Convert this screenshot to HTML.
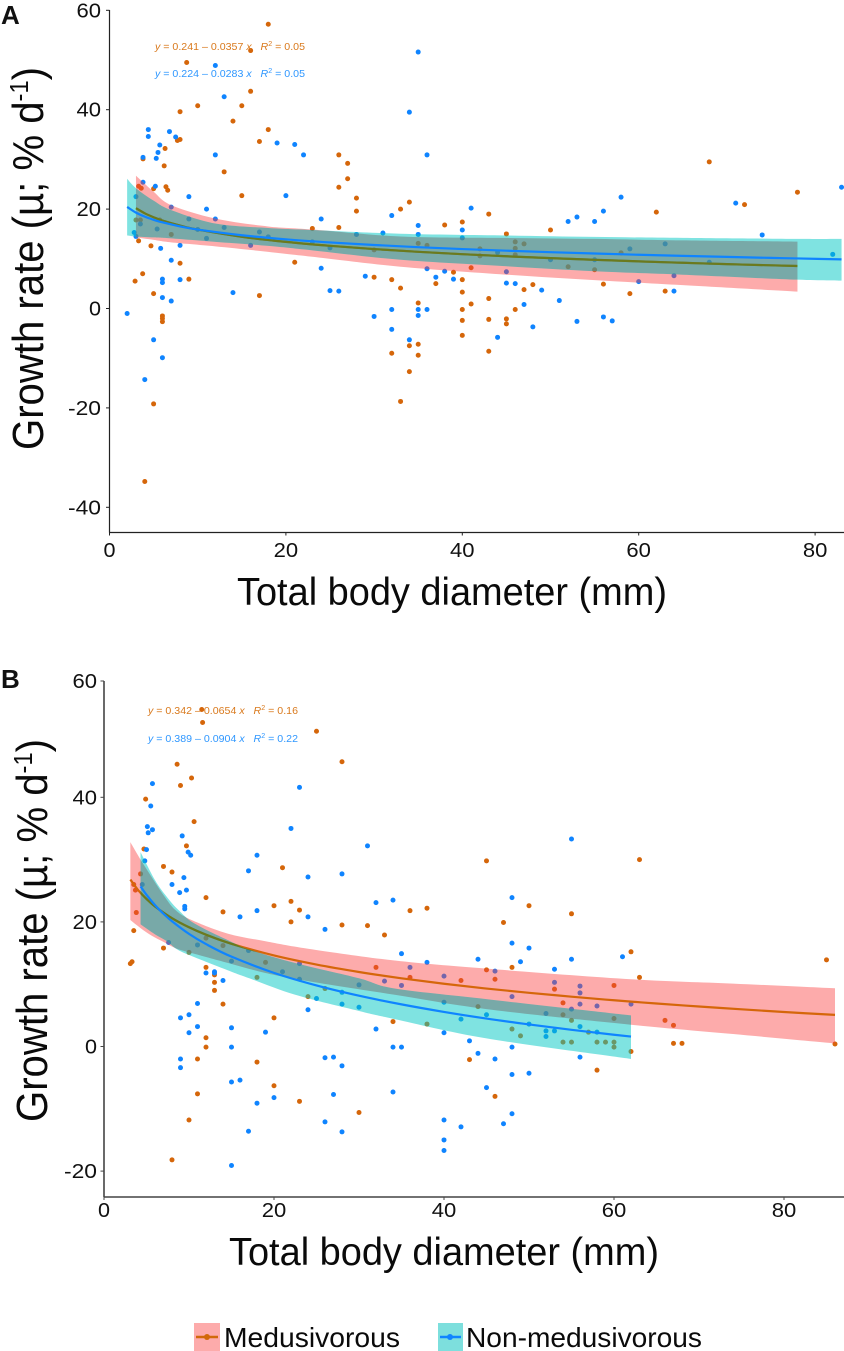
<!DOCTYPE html>
<html lang="en">
<head>
<meta charset="utf-8">
<title>Growth rate vs total body diameter</title>
<style>
html,body{margin:0;padding:0;background:#fff}
svg{display:block;font-family:"Liberation Sans",Arial,sans-serif}
.ann{font-size:10.5px}
.ann tspan.i{font-style:italic}
.title{font-size:38.5px;fill:#0a0a0a}
.ytitle{font-size:44px;fill:#0a0a0a}
.tick{font-size:20px;fill:#111}
.tag{font-size:26px;font-weight:bold;fill:#111}
.leg{font-size:28px;fill:#0a0a0a}
</style>
</head>
<body>
<svg id="chart" xmlns="http://www.w3.org/2000/svg" width="844" height="1351" viewBox="0 0 844 1351">
  <rect width="844" height="1351" fill="#fff"/>
  <g id="panelA"></g>
  <g id="panelB"></g>

  <text class="tag" x="1" y="24">A</text>
  <text class="tag" x="1" y="688">B</text>

  <text class="ytitle" transform="translate(43,450) rotate(-90)" textLength="383" lengthAdjust="spacingAndGlyphs">Growth rate (µ; % d<tspan font-size="26" dy="-15">-1</tspan><tspan dy="15">)</tspan></text>
  <text class="ytitle" transform="translate(47,1122) rotate(-90)" textLength="383" lengthAdjust="spacingAndGlyphs">Growth rate (µ; % d<tspan font-size="26" dy="-15">-1</tspan><tspan dy="15">)</tspan></text>

  <text class="title" x="237" y="605" textLength="430" lengthAdjust="spacingAndGlyphs">Total body diameter (mm)</text>
  <text class="title" x="229" y="1265" textLength="430" lengthAdjust="spacingAndGlyphs">Total body diameter (mm)</text>

  <text class="ann" x="155" y="50" fill="#d9791c" textLength="150" lengthAdjust="spacingAndGlyphs"><tspan class="i">y</tspan> = 0.241 – 0.0357 <tspan class="i">x</tspan>&#160;&#160;&#160;<tspan class="i">R</tspan><tspan font-size="7" dy="-4">2</tspan><tspan dy="4"> = 0.05</tspan></text>
  <text class="ann" x="155" y="77" fill="#2f97ff" textLength="150" lengthAdjust="spacingAndGlyphs"><tspan class="i">y</tspan> = 0.224 – 0.0283 <tspan class="i">x</tspan>&#160;&#160;&#160;<tspan class="i">R</tspan><tspan font-size="7" dy="-4">2</tspan><tspan dy="4"> = 0.05</tspan></text>
  <text class="ann" x="148" y="714" fill="#d9791c" textLength="150" lengthAdjust="spacingAndGlyphs"><tspan class="i">y</tspan> = 0.342 – 0.0654 <tspan class="i">x</tspan>&#160;&#160;&#160;<tspan class="i">R</tspan><tspan font-size="7" dy="-4">2</tspan><tspan dy="4"> = 0.16</tspan></text>
  <text class="ann" x="148" y="742" fill="#2f97ff" textLength="150" lengthAdjust="spacingAndGlyphs"><tspan class="i">y</tspan> = 0.389 – 0.0904 <tspan class="i">x</tspan>&#160;&#160;&#160;<tspan class="i">R</tspan><tspan font-size="7" dy="-4">2</tspan><tspan dy="4"> = 0.22</tspan></text>

  <g>
    <g>
      <rect x="194" y="1323" width="26" height="28" fill="#fdabab"/>
      <line x1="196" x2="218" y1="1337" y2="1337" stroke="#d2690a" stroke-width="2.6"/>
      <circle cx="207" cy="1337" r="3" fill="#d2690a"/>
      <text class="leg" x="224" y="1347" textLength="176" lengthAdjust="spacingAndGlyphs">Medusivorous</text>
    </g>
    <g>
      <rect x="438" y="1323" width="25" height="28" fill="#7ddfdd"/>
      <line x1="440" x2="461" y1="1337" y2="1337" stroke="#0f84ff" stroke-width="2.6"/>
      <circle cx="450" cy="1337" r="3" fill="#0f84ff"/>
      <text class="leg" x="466" y="1347" textLength="236" lengthAdjust="spacingAndGlyphs">Non-medusivorous</text>
    </g>
  </g>
</svg>
<script>
// ---------- Shared tick values ----------
var xTickValues = [0, 20, 40, 60, 80];
var yTickValuesA = [60, 40, 20, 0, -20, -40];
var yTickValuesB = [60, 40, 20, 0, -20];

// ---------- Panel A: points as [diameter, growth] ----------
var aOrangePoints = [
[18,57.2],[16,51.9],[8.75,49.5],[16,43.7],[10,40.8],[15,40.8],[8,39.6],[14,37.7],[18,36],[8,34],[7.7,33.8],[17,33.6],
[6.3,32.2],[26,30.9],[27,29.2],[3.8,30.1],[6.2,28.7],[27,26.1],[13,27.5],[3.3,24.6],[3.6,24.2],[5,24.1],[6.4,24.5],[6.6,23.8],
[15,22.7],[26,24.4],[28,22.2],[28,19.6],[33,20],[23,16.1],[26,16.3],[3,17.8],[3.5,17.8],[5.7,17.8],[7,14.9],[3.3,13.6],
[4.7,12.6],[8,9.1],[21,9.3],[30,11.8],[3.76,7],[2.9,5.5],[5,3],[9,5.9],[6,-1.5],[6,-2],[6,-2.65],[17,2.6],[30,6.3],[32,5.8],
[33,4.1],[32,-9],[33,-18.7],[5,-19.2],[4,-34.8],[68,29.5],[78,23.4],[72,20.9],[62,19.4],[34,21.4],[43,19],[40,17.4],[38,16.8],
[50,15.8],[45,15],[35,13.1],[36,12.7],[46,13.4],[46,12.1],[46,10.8],[47,13],[42,12],[42,10.6],[58,11.2],[52,8.4],[55,7.8],
[41,8.2],[39,7.3],[40,5.8],[37,5],[56,4.9],[59,3],[63,3.5],[47,3.8],[48,4.8],[40,3.3],[41,0.9],[43,2],[35,1.1],[40,-0.2],
[46,-0.2],[40,-2.4],[43,-2.2],[45,-2.1],[45,-3.1],[40,-5.4],[35,-7.2],[34,-7.5],[35,-9.4],[43,-8.6],[34,-12.7]
];
var aBluePoints = [
[35,51.6],[34,39.5],[12,48.9],[13,42.6],[4.4,36],[4.4,34.6],[6.8,35.6],[7.5,34.5],[5.7,32.9],[5.5,31.4],[19,33.3],[21,33],
[22,30.9],[12,30.9],[3.8,30.4],[5.3,30.2],[3.8,25.4],[5.2,24.6],[3,22.5],[9,22.5],[20,22.7],[7,20.4],[11,20],[9,18],[12,18],
[24,18],[32,18.7],[3.5,17],[5.4,16],[13,16.3],[10,15.9],[17,15.4],[31,15.2],[28,14.9],[11,14.1],[2.8,15.3],[3,14.5],[18,14.4],
[23,13.4],[8,12.7],[16,12.7],[25,12.2],[5.8,12.1],[7,9.7],[24,8.1],[6,5.9],[6,5.2],[8,5.8],[14,3.2],[25,3.6],[26,3.5],[29,6.5],
[6,2.2],[7,1.5],[2,-1],[32,-0.2],[30,-1.6],[32,-4.2],[5,-6.3],[6,-9.9],[4,-14.3],[36,30.9],[41,20.2],[58,22.4],[56,19.6],
[52,17.5],[53,18.4],[55,17.5],[71,21.2],[83,24.4],[74,14.8],[35,16.7],[35,14.9],[40,15.8],[40,14.2],[44,11.3],[59,12],[63,13],
[55,9.8],[50,9.8],[82,10.9],[68,9.3],[64,6.6],[60,5.4],[36,8],[38,7.5],[37,6.3],[39,5.9],[45,7.4],[45,5.1],[46,5],[49,3.7],
[64,3.5],[47,0.8],[51,1.6],[35,-0.2],[36,-0.2],[35,-1.4],[53,-2.6],[56,-1.7],[57,-2.5],[48,-3.7],[44,-5.8],[34,-6.3]
];

// ---------- Panel A: fitted lines ----------
var aOrangeLineX = [3,4,5,6,8,10,15,20,25,30,35,40,45,50,55,60,65,70,75,78];
var aOrangeLineY = [20.18,19.15,18.36,17.70,16.68,15.88,14.43,13.40,12.61,11.96,11.41,10.93,10.51,10.13,9.80,9.48,9.20,8.93,8.69,8.55];
var aBlueLineX = [2,3,4,5,6,8,10,15,20,25,30,35,40,45,50,55,60,65,70,75,78,83];
var aBlueLineY = [20.44,19.29,18.48,17.85,17.33,16.52,15.88,14.74,13.92,13.29,12.78,12.34,11.96,11.63,11.33,11.06,10.81,10.59,10.38,10.18,10.07,9.89];

// ---------- Panel A: confidence ribbons ----------
var aOrangeBandX = [3,5,7,12,18,23,33,45,55,65,78];
var aOrangeBandHigh = [26.7,23.5,20.8,18.1,16.5,15.9,14.5,14.2,14,13.7,13.45];
var aOrangeBandLow = [14.3,13.8,13.3,12.5,11.4,10.4,8.4,6.8,5.7,4.7,3.4];
var aBlueBandX = [2,3,5,7,12,18,23,33,45,55,65,78,83];
var aBlueBandHigh = [26.1,24.2,21.7,19.8,17.1,16.2,15.8,15.05,14.7,14.4,14.2,14,14];
var aBlueBandLow = [14.7,14.5,14.3,14.1,13.4,12.6,11.7,9.8,8.5,7.5,6.8,5.8,5.6];

// ---------- Panel B: points as [diameter, growth] ----------
var bOrangePoints = [
[11.5,54.1],[11.6,52],[25,50.6],[28,45.7],[8.6,45.3],[10.3,43.1],[9,41.9],[4.9,39.7],[10.6,36.1],[9.7,32.2],[4.7,31.7],[7,28.9],
[8,28],[21,28.7],[4.3,27.7],[3.5,26],[3.7,25.1],[3.8,21.5],[3.5,18.6],[12,23.9],[14,21.6],[20,22.6],[22,23.3],[23,21.9],[22,20],
[28,19.5],[31,19.4],[33,17.9],[12,17.4],[14,16.2],[7,15.8],[10,15.1],[18,11.1],[19,13.5],[24,8],[26,9.3],[32,12.7],[3.1,13.3],
[3.3,13.6],[12,12.7],[13,11.5],[13,10.3],[13,9],[14,6.8],[12,1.4],[12,-0.1],[11,-2],[18,-2.5],[11,-7.6],[10,-11.8],[8,-18.2],
[20,4.6],[20,-6.3],[23,-8.8],[30,-10.6],[34,4],[45,29.8],[63,30],[50,22.6],[55,21.3],[47,19.9],[36,21.8],[38,22.2],[62,15.2],
[85,13.9],[45,12.3],[48,12.7],[63,11.1],[36,11.1],[42,10.6],[46,10.8],[53,9.2],[60,9.8],[54,7],[44,6.4],[54,5.1],[60,4.5],
[55,4.2],[38,3.6],[48,2.8],[49,1.7],[57,2.3],[54,0.7],[55,0.7],[58,0.7],[59,0.7],[60,0.7],[60,-0.1],[62,-0.8],[66,4.2],[67,3.4],
[67,0.5],[68,0.5],[86,0.4],[58,-3.8],[43,-2.1],[46,-8]
];
var bBluePoints = [
[5.7,42.2],[23,41.6],[5.5,38.6],[5.1,35.3],[5.7,34.8],[5.2,34.3],[22,35],[9.2,33.8],[31,32.2],[5,31.6],[9.9,31.2],[10.2,30.7],
[18,30.7],[4.8,29.8],[17,28.2],[28,27.7],[24,27.2],[9.4,27.1],[8,26],[4.5,26],[8.9,24.7],[9.7,25.1],[32,23.1],[34,23.5],[9.5,22.5],
[9.5,22.1],[18,21.8],[16,20.8],[24,20.8],[26,18.8],[7.6,16.7],[11,16.3],[17,15.4],[15,13.7],[14,10.6],[12,11.8],[13,12],[13,11.8],
[21,12],[23,13.3],[23,10.8],[25,7.7],[24,5.9],[28,8.7],[28,6.8],[30,9.9],[30,6.3],[33,10.5],[32,2.8],[11,6.9],[10,5.1],[9,4.6],
[11,3.2],[10,2.2],[15,3],[19,2.3],[15,-0.1],[34,-0.1],[9,-2],[9,-3.4],[26,-1.8],[27,-1.7],[28,-3.1],[15,-5.7],[16,-5.4],[18,-9.1],
[20,-8.2],[27,-7.7],[34,-7.3],[26,-12.1],[28,-13.7],[17,-13.6],[15,-19.1],[55,33.3],[48,23.9],[48,16.6],[50,15.8],[49,13.6],
[35,14.9],[38,13.5],[44,14],[55,14],[61,14.4],[53,12.4],[36,12.7],[40,11.3],[46,12.1],[35,9.8],[53,10.3],[56,9.7],[56,8.6],[48,8],
[56,6.8],[58,6.5],[55,6],[62,6.8],[40,7.1],[52,5.3],[45,5.1],[42,4.4],[50,3.6],[56,3.2],[52,2.5],[53,2.5],[58,2.3],[52,1.6],[40,2.2],
[43,0.9],[35,-0.1],[48,-0.1],[44,-1.1],[46,-2],[56,-1.7],[48,-4.5],[50,-4.3],[45,-6.6],[48,-10.8],[47,-12.4],[40,-11.8],[42,-12.9],
[40,-15],[40,-16.7]
];

// ---------- Panel B: fitted lines ----------
var bOrangeLineX = [3.1,4,5,6,8,10,12,15,20,25,30,35,40,45,50,55,60,65,70,75,80,86];
var bOrangeLineY = [26.80,25.13,23.68,22.48,20.60,19.14,17.95,16.49,14.61,13.15,11.96,10.95,10.07,9.30,8.62,8.00,7.42,6.90,6.42,5.97,5.54,5.07];
var bBlueLineX = [4.3,5,6,7,8,10,12,15,20,25,30,35,40,45,50,55,60,62];
var bBlueLineY = [25.71,24.35,22.70,21.31,20.11,18.08,16.44,14.42,11.82,9.80,8.15,6.76,5.55,4.48,3.54,2.68,1.89,1.59];

// ---------- Panel B: confidence ribbons ----------
var bOrangeBandX = [3.1,4.3,5.6,7,8.4,10.3,14.6,19,24,34.2,45,62,74,86];
var bOrangeBandHigh = [32.8,30,27.2,24.3,21.9,20.3,18.1,16.9,15.7,13.8,12.5,10.8,10.1,9.34];
var bOrangeBandLow = [20.3,19,17.8,16.8,15.8,15,13.4,11.8,10.5,8.3,6,3.5,2,0.5];
var bBlueBandX = [4.3,6,7.4,8.7,10.7,15,17,22.5,30,34.2,45,62];
var bBlueBandHigh = [31.2,26.7,24,22,19.7,16.8,15.6,13.4,10.95,9.3,7.6,5];
var bBlueBandLow = [19.6,18,16.9,15.5,14.3,12,11,8.3,5.7,4.4,1.3,-2];

var SVGNS = 'http://www.w3.org/2000/svg';
var ORANGE = '#d5660a';
var BLUE = '#0f84ff';
var OLIVE = '#6b7a1e';

function mk(parent, tag, attrs) {
  var el = document.createElementNS(SVGNS, tag);
  for (var k in attrs) { el.setAttribute(k, attrs[k]); }
  parent.appendChild(el);
  return el;
}
// Smooth Catmull-Rom segments through a list of screen points.
function curveSegments(p) {
  var d = '';
  for (var i = 0; i < p.length - 1; i++) {
    var a = p[Math.max(i - 1, 0)], b = p[i], c = p[i + 1], e = p[Math.min(i + 2, p.length - 1)];
    d += 'C' + (b[0] + (c[0] - a[0]) / 6).toFixed(2) + ' ' + (b[1] + (c[1] - a[1]) / 6).toFixed(2) + ' ' +
         (c[0] - (e[0] - b[0]) / 6).toFixed(2) + ' ' + (c[1] - (e[1] - b[1]) / 6).toFixed(2) + ' ' +
         c[0].toFixed(2) + ' ' + c[1].toFixed(2);
  }
  return d;
}
function screenPts(xs, ys, sx, sy) {
  return xs.map(function (v, i) { return [sx(v), sy(ys[i])]; });
}
function linePath(xs, ys, sx, sy) {
  var p = screenPts(xs, ys, sx, sy);
  return 'M' + p[0][0].toFixed(2) + ' ' + p[0][1].toFixed(2) + curveSegments(p);
}
function bandPath(xs, hi, lo, sx, sy) {
  var top = screenPts(xs, hi, sx, sy);
  var bot = screenPts(xs, lo, sx, sy).reverse();
  return 'M' + top[0][0].toFixed(2) + ' ' + top[0][1].toFixed(2) + curveSegments(top) +
         'L' + bot[0][0].toFixed(2) + ' ' + bot[0][1].toFixed(2) + curveSegments(bot) + 'Z';
}

function drawPanel(cfg) {
  var root = document.getElementById(cfg.id);
  var sx = function (v) { return cfg.x0 + cfg.kx * v; };
  var sy = function (v) { return cfg.y0 - cfg.ky * v; };
  var el, i;

  // ----- points (under the ribbons)
  for (i = 0; i < cfg.orangePts.length; i++) {
    el = mk(root, 'circle', { cx: sx(cfg.orangePts[i][0]), cy: sy(cfg.orangePts[i][1]), r: 2.5, fill: ORANGE });
    
    
  }
  for (i = 0; i < cfg.bluePts.length; i++) {
    el = mk(root, 'circle', { cx: sx(cfg.bluePts[i][0]), cy: sy(cfg.bluePts[i][1]), r: 2.5, fill: BLUE });
    
    
  }

  // ----- ribbons and lines
  var orangeBand = bandPath(cfg.oBandX, cfg.oHi, cfg.oLo, sx, sy);
  var blueBand = bandPath(cfg.bBandX, cfg.bHi, cfg.bLo, sx, sy);
  var orangeLine = linePath(cfg.oLineX, cfg.oLineY, sx, sy);
  var blueLine = linePath(cfg.bLineX, cfg.bLineY, sx, sy);

  var defs = mk(root, 'defs', {});
  var clip = mk(defs, 'clipPath', { id: cfg.id + '-blue-clip' });
  mk(clip, 'path', { d: blueBand });

  el = mk(root, 'path', { d: orangeBand, fill: 'rgb(250,60,60)', 'fill-opacity': 0.43 });
  
  

  el = mk(root, 'path', { d: orangeLine, fill: 'none', stroke: ORANGE, 'stroke-width': 2.2 });
  
  

  el = mk(root, 'path', { d: blueBand, fill: 'rgb(0,200,195)', 'fill-opacity': 0.5 });
  
  

  var overlapClip = mk(defs, 'clipPath', { id: cfg.id + '-overlap-clip' });
  mk(overlapClip, 'path', { d: orangeBand, 'clip-path': 'url(#' + cfg.id + '-blue-clip)' });

  el = mk(root, 'path', { d: blueBand, fill: 'rgb(90,80,90)', 'fill-opacity': 0.15, 'clip-path': 'url(#' + cfg.id + '-overlap-clip)' });
  
  

  el = mk(root, 'path', { d: orangeLine, fill: 'none', stroke: OLIVE, 'stroke-width': 2.2, 'clip-path': 'url(#' + cfg.id + '-blue-clip)' });
  
  

  el = mk(root, 'path', { d: blueLine, fill: 'none', stroke: BLUE, 'stroke-width': 2.2 });
  
  

  // ----- axes
  el = mk(root, 'line', { x1: cfg.x0, x2: cfg.x0, y1: cfg.axisTop, y2: cfg.axisBottom, stroke: cfg.axisColor, 'stroke-width': cfg.axisWidth });
  
  

  el = mk(root, 'line', { x1: cfg.x0, x2: cfg.axisRight, y1: cfg.axisBottom, y2: cfg.axisBottom, stroke: cfg.axisColor, 'stroke-width': cfg.axisWidth });
  
  

  cfg.yTicks.forEach(function (v) {
    var py = Math.max(cfg.axisTop, sy(v));
    var t = mk(root, 'line', { x1: cfg.x0 - 3.5, x2: cfg.x0, y1: py, y2: py, stroke: cfg.axisColor, 'stroke-width': 1 });
    
    
    var s = String(v);
    var l = mk(root, 'text', { 'class': 'tick', x: cfg.yLabelRight, y: py + 7, 'text-anchor': 'end', textLength: v < 0 ? 33 : (v === 0 ? 12 : 24.5), lengthAdjust: 'spacingAndGlyphs' });
    l.textContent = s;
    
    
  });

  cfg.xTicks.forEach(function (v) {
    var px = sx(v);
    var t = mk(root, 'line', { x1: px, x2: px, y1: cfg.axisBottom, y2: cfg.axisBottom + 3, stroke: cfg.axisColor, 'stroke-width': 1 });
    
    
    var l = mk(root, 'text', { 'class': 'tick', x: px, y: cfg.xLabelBase, 'text-anchor': 'middle', textLength: v === 0 ? 12 : 24.5, lengthAdjust: 'spacingAndGlyphs' });
    l.textContent = String(v);
    
    
  });
}

drawPanel({
  id: 'panelA', x0: 109.5, kx: 8.82, y0: 308.5, ky: 4.97,
  axisTop: 10, axisBottom: 532.5, axisRight: 844, axisColor: '#222', axisWidth: 1.2,
  yLabelRight: 101, xLabelBase: 557,
  xTicks: xTickValues, yTicks: yTickValuesA,
  orangePts: aOrangePoints, bluePts: aBluePoints,
  oLineX: aOrangeLineX, oLineY: aOrangeLineY, bLineX: aBlueLineX, bLineY: aBlueLineY,
  oBandX: aOrangeBandX, oHi: aOrangeBandHigh, oLo: aOrangeBandLow,
  bBandX: aBlueBandX, bHi: aBlueBandHigh, bLo: aBlueBandLow
});
drawPanel({
  id: 'panelB', x0: 104, kx: 8.5, y0: 1046.5, ky: 6.23,
  axisTop: 681, axisBottom: 1197, axisRight: 844, axisColor: '#444', axisWidth: 1.6,
  yLabelRight: 97, xLabelBase: 1217,
  xTicks: xTickValues, yTicks: yTickValuesB,
  orangePts: bOrangePoints, bluePts: bBluePoints,
  oLineX: bOrangeLineX, oLineY: bOrangeLineY, bLineX: bBlueLineX, bLineY: bBlueLineY,
  oBandX: bOrangeBandX, oHi: bOrangeBandHigh, oLo: bOrangeBandLow,
  bBandX: bBlueBandX, bHi: bBlueBandHigh, bLo: bBlueBandLow
});
</script>
</body>
</html>
